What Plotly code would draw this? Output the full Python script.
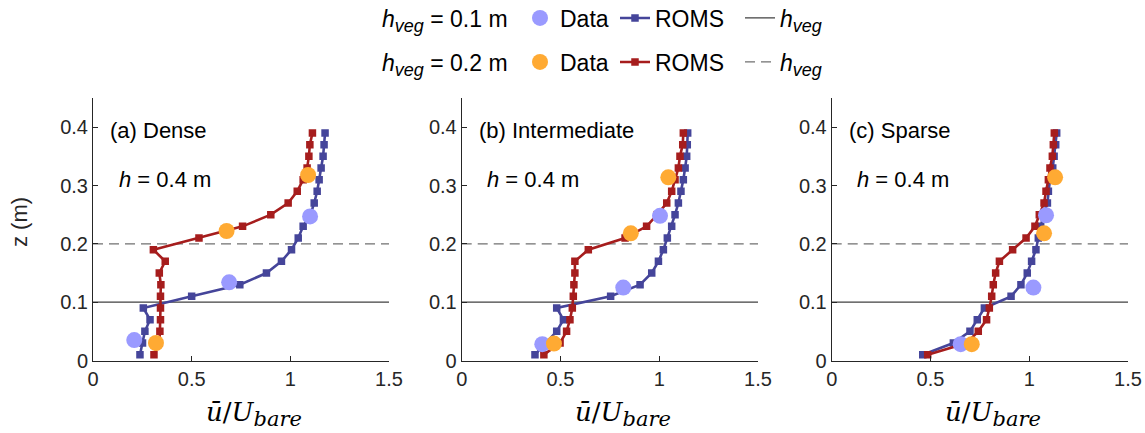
import plotly.graph_objects as go

# ---------------- data ----------------
z_roms = [0.01, 0.03, 0.05, 0.07, 0.09, 0.11, 0.13, 0.15, 0.17, 0.19,
          0.21, 0.23, 0.25, 0.27, 0.29, 0.31, 0.33, 0.35, 0.37, 0.39]

panels = ["(a) Dense", "(b) Intermediate", "(c) Sparse"]

roms_h01 = [
    [0.238, 0.251, 0.263, 0.289, 0.255, 0.500, 0.744, 0.879, 0.955, 1.006,
     1.040, 1.065, 1.102, 1.121, 1.136, 1.146, 1.156, 1.166, 1.171, 1.176],
    [0.371, 0.427, 0.481, 0.515, 0.481, 0.754, 0.903, 0.962, 0.996, 1.021,
     1.041, 1.063, 1.080, 1.097, 1.110, 1.122, 1.131, 1.139, 1.142, 1.144],
    [0.461, 0.616, 0.700, 0.737, 0.773, 0.908, 0.958, 0.990, 1.012, 1.034,
     1.046, 1.058, 1.072, 1.092, 1.097, 1.105, 1.119, 1.126, 1.134, 1.139],
]
roms_h02 = [
    [0.309, 0.336, 0.339, 0.342, 0.342, 0.342, 0.344, 0.336, 0.366, 0.306,
     0.537, 0.758, 0.901, 0.989, 1.035, 1.065, 1.085, 1.094, 1.099, 1.112],
    [0.416, 0.498, 0.531, 0.548, 0.560, 0.565, 0.568, 0.573, 0.573, 0.641,
     0.827, 0.936, 0.990, 1.038, 1.063, 1.080, 1.097, 1.105, 1.119, 1.122],
    [0.486, 0.683, 0.742, 0.784, 0.798, 0.810, 0.818, 0.830, 0.849, 0.916,
     0.984, 1.029, 1.051, 1.075, 1.085, 1.097, 1.105, 1.117, 1.122, 1.127],
]

data_h01_u = [[0.209, 0.690, 1.100], [0.408, 0.818, 1.004], [0.653, 1.021, 1.085]]
data_h01_z = [[0.035, 0.134, 0.247], [0.028, 0.125, 0.248], [0.028, 0.125, 0.249]]
data_h02_u = [[0.319, 0.677, 1.090], [0.467, 0.856, 1.046], [0.709, 1.075, 1.131]]
data_h02_z = [[0.030, 0.222, 0.318], [0.029, 0.218, 0.314], [0.028, 0.218, 0.314]]

h_veg = [0.1, 0.2]
h_water = 0.4

x_range = [0, 1.5]
y_range = [0, 0.45]
x_ticks = [0, 0.5, 1, 1.5]
x_ticktext = ["0", "0.5", "1", "1.5"]
y_ticks = [0, 0.1, 0.2, 0.3, 0.4]
y_ticktext = ["0", "0.1", "0.2", "0.3", "0.4"]

# ---------------- styles ----------------
C_BLUE = "#45459a"
C_RED = "#a61d1d"
C_LBLUE = "#9a9aff"
C_ORANGE = "#ffaa33"
C_AX = "#262626"
FONT = "Liberation Sans, Arial, sans-serif"
SERIF = "DejaVu Serif, Liberation Serif, serif"

W, H = 1145, 433
x_doms = [[93 / W, 389 / W], [461.7 / W, 758 / W], [831.7 / W, 1128 / W]]
y_dom = [(H - 360.5) / H, (H - 98) / H]

# legend layout (pixel positions of entry starts, row centres)
leg_entry_x = [520, 615, 740]      # Data, ROMS, h_veg
leg_row_y = [18, 62]

fig = go.Figure()

HV = '<i>h</i><sub><i><span style="font-size:18px">veg</span></i></sub>'

def legname(row, col):
    return f"legend{'' if (row * 3 + col) == 0 else row * 3 + col + 1}"

for i in range(3):
    xa = "x" if i == 0 else f"x{i+1}"
    ya = "y" if i == 0 else f"y{i+1}"
    # h_veg reference lines
    for k, (hv, dash, col) in enumerate(zip(h_veg, ["solid", "10px,6px"], ["#404040", "#707070"])):
        fig.add_trace(go.Scatter(
            x=x_range, y=[hv, hv], mode="lines", xaxis=xa, yaxis=ya,
            line=dict(color=col, width=1.3, dash=dash),
            name=HV, showlegend=(i == 0), legend=legname(k, 2),
            hoverinfo="skip"))
    # ROMS profiles
    for k, (prof, col) in enumerate(zip([roms_h01[i], roms_h02[i]], [C_BLUE, C_RED])):
        fig.add_trace(go.Scatter(
            x=prof, y=z_roms, mode="lines+markers", xaxis=xa, yaxis=ya,
            line=dict(color=col, width=2.6),
            marker=dict(symbol="square", size=7.5, color=col),
            name="ROMS", showlegend=(i == 0), legend=legname(k, 1)))
    # measured data
    for k, (uu, zz, col) in enumerate(zip([data_h01_u[i], data_h02_u[i]],
                                          [data_h01_z[i], data_h02_z[i]],
                                          [C_LBLUE, C_ORANGE])):
        fig.add_trace(go.Scatter(
            x=uu, y=zz, mode="markers", xaxis=xa, yaxis=ya,
            marker=dict(symbol="circle", size=16, color=col, line=dict(width=0)),
            name="Data", showlegend=(i == 0), legend=legname(k, 0)))
    # panel annotations
    fig.add_annotation(x=0.075, y=0.394, xref=xa, yref=ya, text=panels[i],
                       showarrow=False, xanchor="left", yanchor="middle",
                       font=dict(family=FONT, size=22, color="#000"))
    fig.add_annotation(x=0.12, y=0.311, xref=xa, yref=ya,
                       text=f"<i>h</i> = {h_water} m",
                       showarrow=False, xanchor="left", yanchor="middle",
                       font=dict(family=FONT, size=22, color="#000"))
    # x-axis title
    xc = (x_doms[i][0] + x_doms[i][1]) / 2 + 13 / W
    fig.add_annotation(
        x=xc, y=(H - 414) / H, xref="paper", yref="paper", showarrow=False,
        text='<i>ū</i>/<i>U</i><sub><i><span style="font-size:21px">bare</span></i></sub>',
        xanchor="center", yanchor="middle",
        font=dict(family=SERIF, size=26, color="#000"))

# y-axis title
fig.add_annotation(x=19 / W, y=(H - 222) / H, xref="paper", yref="paper",
                   text="z (m)", textangle=-90, showarrow=False,
                   xanchor="center", yanchor="middle",
                   font=dict(family=FONT, size=22, color=C_AX))

# legend row titles
for r in range(2):
    fig.add_annotation(x=380 / W, y=(H - leg_row_y[r] - 3) / H, xref="paper", yref="paper",
                       text=f"{HV} = {h_veg[r]} m", showarrow=False,
                       xanchor="left", yanchor="middle",
                       font=dict(family=FONT, size=23, color="#000"))

axis_common = dict(
    showline=True, linecolor=C_AX, linewidth=1, mirror=False,
    ticks="inside", ticklen=5, tickcolor=C_AX, tickwidth=1,
    showgrid=False, zeroline=False, automargin=False,
    tickfont=dict(family=FONT, size=20, color=C_AX),
)

layout = dict(
    width=W, height=H, margin=dict(l=0, r=0, t=0, b=0, autoexpand=False),
    paper_bgcolor="white", plot_bgcolor="white",
    font=dict(family=FONT, color="#000"),
)

for i in range(3):
    sx = "" if i == 0 else str(i + 1)
    layout[f"xaxis{sx}"] = dict(
        axis_common, domain=x_doms[i], range=x_range, tickvals=x_ticks,
        ticktext=x_ticktext, anchor=f"y{sx}")
    layout[f"yaxis{sx}"] = dict(
        axis_common, domain=y_dom, range=y_range, tickvals=y_ticks,
        ticktext=y_ticktext, anchor=f"x{sx}")

for r in range(2):
    for c in range(3):
        layout[legname(r, c)] = dict(
            orientation="h", xanchor="left", yanchor="middle",
            x=leg_entry_x[c] / W, y=(H - leg_row_y[r]) / H,
            bgcolor="rgba(0,0,0,0)", borderwidth=0,
            font=dict(family=FONT, size=23, color="#000"),
            itemclick=False, itemdoubleclick=False)

fig.update_layout(**layout)
fig.write_html("out.html", config={"displayModeBar": False},
               post_script="document.body.style.margin='0';document.body.style.padding='0';")
